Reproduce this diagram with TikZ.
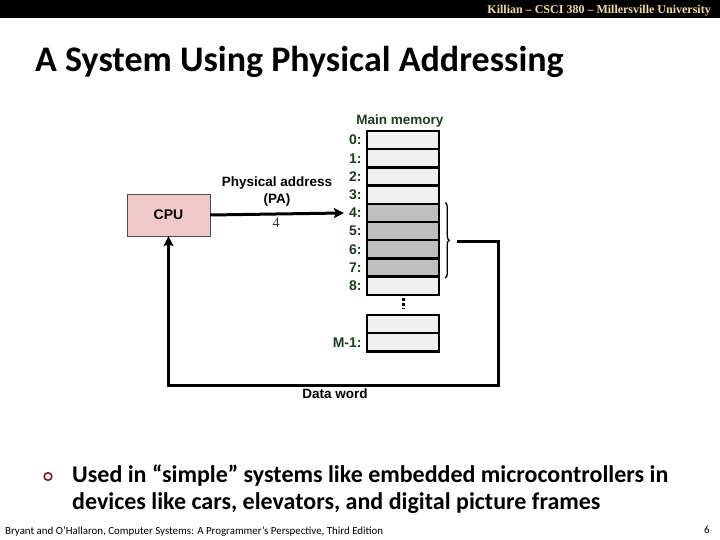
\documentclass[tikz,border=0pt]{standalone}
\usepackage{fontspec}
\setmainfont{Liberation Serif}
\newfontfamily\slidefont{Carlito}
\newfontfamily\figfont{Liberation Sans}
\usetikzlibrary{arrows.meta,positioning,decorations.pathreplacing}
\definecolor{bar}{HTML}{000000}
\definecolor{tan}{HTML}{F2D9A6}
\definecolor{addrgreen}{HTML}{1E3F1E}
\definecolor{cpupink}{HTML}{F1C9C9}
\definecolor{celllight}{HTML}{F0F0F0}
\definecolor{cellshade}{HTML}{BFBFBF}
\definecolor{bulletred}{HTML}{7A1E22}

\begin{document}
\begin{tikzpicture}[x=1pt,y=-1pt,cell/.style={draw,line width=2.5pt,fill=celllight,minimum width=72pt,minimum height=18.2pt,inner sep=0pt},shaded/.style={cell,fill=cellshade},addr/.style={font=\figfont\bfseries\fontsize{14}{15}\selectfont,text=addrgreen,inner sep=0pt,anchor=east},figtext/.style={font=\figfont\bfseries\fontsize{13.5}{17}\selectfont,align=center,inner sep=0pt},wire/.style={line width=3pt},arrow/.style={wire,-{Stealth[length=10pt,width=10pt,inset=2pt]}}]
 \useasboundingbox[fill=white] (0,0) rectangle (720,540);
 % header bar
 \fill[bar] (0,0) rectangle (720,18);
 \node[anchor=base east,text=tan,font=\bfseries\fontsize{12}{13}\selectfont,inner sep=0pt] (header) at (711,14) {Killian -- CSCI 380 -- Millersville University};
 \node[anchor=base west,font=\slidefont\bfseries\fontsize{36}{40}\selectfont,inner sep=0pt] (title) at (35,72) {A System Using Physical Addressing};
 % memory
 \node[figtext,text=addrgreen] (memlabel) at (400,121) {Main memory};
 \foreach \i/\y/\s in {0/140.1/cell,1/158.3/cell,2/176.5/cell,3/194.7/cell,4/212.9/shaded,5/231.1/shaded,6/249.3/shaded,7/267.5/shaded,8/285.7/cell}{
  \node[\s] (cell\i) at (403,\y) {};
  \node[addr,left=4pt of cell\i] (lbl\i) {\i:};
 }
 \node[cell] (cellm2) at (403,324) {};
 \node[cell] (cellm1) at (403,342.2) {};
 \node[addr,left=4pt of cellm1] (lblm1) {M-1:};
 \draw[line width=3pt,dash pattern=on 3pt off 2pt,shorten <=2pt,shorten >=5pt] (cell8.south) -- (cellm2.north);
 \draw[line width=1.3pt,decorate,decoration={brace,amplitude=4pt}] ([xshift=5pt]cell4.north east) -- ([xshift=5pt]cell7.south east);
 \coordinate (tip) at ([xshift=17pt]cell5.south east);
 % cpu
 \node[draw=black!70,fill=cpupink,minimum width=83pt,minimum height=42pt,font=\figfont\bfseries\fontsize{14}{15}\selectfont] (cpu) at (168.5,215) {CPU};
 \draw[arrow,shorten >=5pt] (cpu.east) -- (lbl4.west);
 \node[figtext] (pa) at (277,191.5) {Physical address\\(PA)};
 \node[text=black!80,font=\fontsize{14}{15}\selectfont,inner sep=0pt] (paval) at (276,223) {4};
 \draw[arrow] (tip) -| ++(41,144) -| (cpu.south);
 \node[figtext] (dataword) at (335,394) {Data word};
 % bullet
 \draw[bulletred,line width=1.6pt] (48,476.5) circle (3.8);
 \node[anchor=base west,font=\slidefont\bfseries\fontsize{24}{27.5}\selectfont,align=left,inner sep=0pt] (bullet) at (72,509.5) {Used in “simple” systems like embedded microcontrollers in\\devices like cars, elevators, and digital picture frames};
 % footer
 \node[anchor=base west,font=\slidefont\fontsize{10.9}{12}\selectfont,inner sep=0pt] (footer) at (5,534) {Bryant and O’Hallaron, Computer Systems: A Programmer’s Perspective, Third Edition};
 \node[anchor=base east,font=\slidefont\fontsize{11}{12}\selectfont,inner sep=0pt] (pagenum) at (710,533) {6};
\end{tikzpicture}
\end{document}
